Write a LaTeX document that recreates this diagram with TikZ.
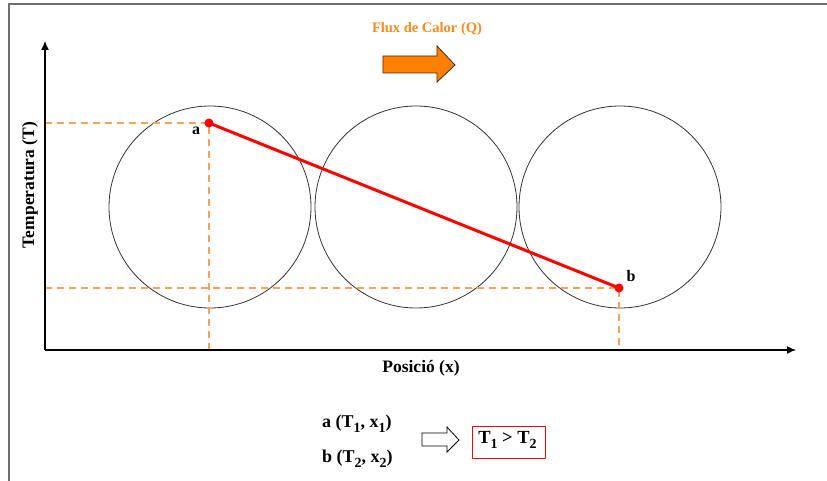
\documentclass[tikz,border=0pt]{standalone}
\usepackage{fontspec}
\setmainfont{Liberation Serif}
\usetikzlibrary{arrows.meta}
\definecolor{dashor}{HTML}{F5A35A}
\definecolor{fluxor}{HTML}{FF8A1E}
\definecolor{arrowor}{HTML}{FF7F00}
\definecolor{framegray}{HTML}{6E6E6E}
\newcommand\mysub[1]{\raisebox{-0.28em}{\fontsize{14}{16}\selectfont #1}}
\tikzset{
  frameline/.style={draw=framegray,line width=2pt},
  axisline/.style={draw=black,line width=1.2pt,-{Latex[length=9pt,width=8pt]}},
  guide/.style={draw=dashor,line width=1.4pt,dash pattern=on 7pt off 5pt},
  ball/.style={draw=black!80,line width=0.8pt},
  dot/.style={circle,fill=red,inner sep=0pt,minimum size=9pt},
  redline/.style={draw=red,line width=3pt},
  lbl/.style={font=\bfseries\fontsize{16}{18}\selectfont,inner sep=0pt},
  axlbl/.style={font=\bfseries\fontsize{17.5}{20}\selectfont,inner sep=0pt},
  coordlbl/.style={font=\bfseries\fontsize{18}{20}\selectfont,inner sep=0pt,anchor=west},
}
\begin{document}
\begin{tikzpicture}[x=1pt,y=-1pt]
\useasboundingbox (0,0) rectangle (827,481);
% frame
\coordinate (ftl) at (8.5,4.5);
\coordinate (fbl) at (8.5,481);
\coordinate (ftr) at (827,4.5);
\draw[frameline] (fbl) -- (ftl) -- (ftr);
% axes
\coordinate (o) at (45,350);
\coordinate (yend) at (45,41);
\coordinate (xend) at (796,350);
% circles
\draw[ball] (210,207) circle (101);
\draw[ball] (416,207) circle (101);
\draw[ball] (620,207) circle (101);
% points
\coordinate (a) at (209,123);
\coordinate (b) at (619,288);
\coordinate (ay) at (45,123);
\coordinate (ax) at (209,350);
\coordinate (by) at (45,288);
\coordinate (bx) at (619,350);
\draw[guide] (ay) -- (a) -- (ax);
\draw[guide] (by) -- (b) -- (bx);
\draw[axisline] (o) -- (yend);
\draw[axisline] (o) -- (xend);
\draw[redline] (a) -- (b);
\node[dot] (adot) at (a) {};
\node[dot] (bdot) at (b) {};
\node[lbl] (alab) at (196,131) {a};
\node[lbl] (blab) at (631,276) {b};
% axis labels
\node[axlbl,rotate=90] (tlab) at (30,185) {Temperatura (T)};
\node[axlbl] (plab) at (421,368) {Posició (x)};
% flux
\node[lbl,font=\bfseries\fontsize{14.5}{17}\selectfont,text=fluxor] (flux) at (427,29) {Flux de Calor (Q)};
\draw[draw=black!70!arrowor,fill=arrowor,line width=0.8pt]
  (383,56) -- (437,56) -- (437,46) -- (455,65) -- (437,82) -- (437,73) -- (383,73) -- cycle;
% bottom
\node[coordlbl] (pa) at (322,424) {a (T\mysub{1}, x\mysub{1})};
\node[coordlbl] (pb) at (322,459) {b (T\mysub{2}, x\mysub{2})};
\draw[draw=black,fill=white,line width=0.8pt]
  (422,433) -- (447,433) -- (447,427) -- (459,440) -- (447,452) -- (447,446) -- (422,446) -- cycle;
\node[draw=red,line width=1pt,minimum width=73pt,minimum height=32pt] (res) at (508.5,442) {};
\node[lbl,font=\bfseries\fontsize{18.5}{20}\selectfont] (restext) at (507.5,440) {T\mysub{1} > T\mysub{2}};
\end{tikzpicture}
\end{document}
